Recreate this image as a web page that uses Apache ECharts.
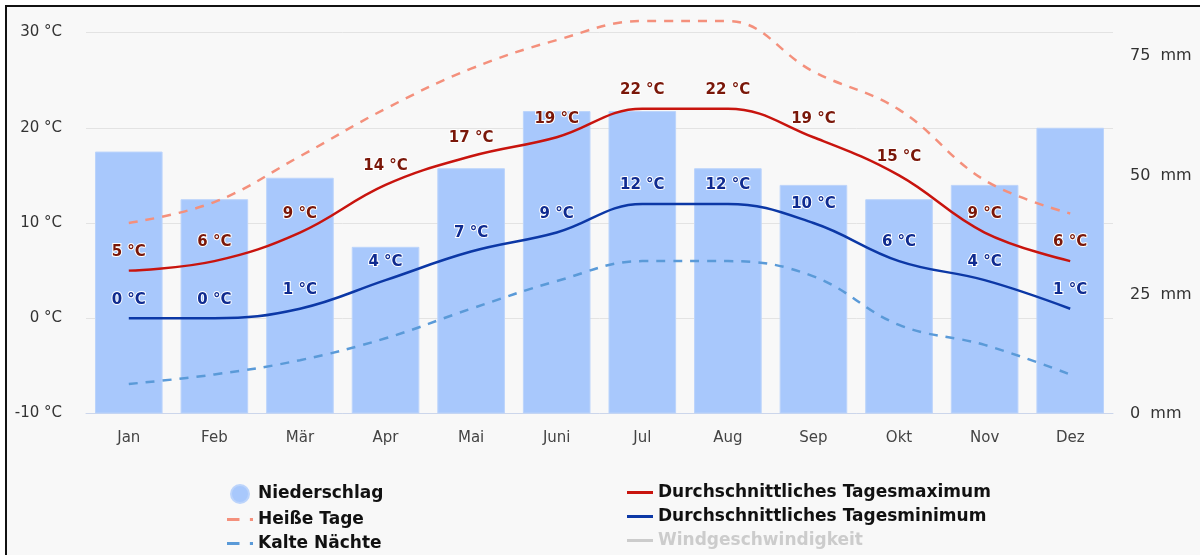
<!DOCTYPE html>
<html>
<head>
<meta charset="utf-8">
<script src="https://cdn.jsdelivr.net/npm/echarts@6/dist/echarts.min.js"></script>
<style>
html,body{margin:0;padding:0;background:#fff;overflow:hidden;}
#frame{position:absolute;left:5px;top:5px;width:1300px;height:700px;background:#f8f8f8;border-top:2px solid #111;border-left:2px solid #111;}
#chart{position:absolute;left:0;top:0;width:1200px;height:555px;}
</style>
</head>
<body>
<div id="frame"></div>
<div id="chart"></div>
<script>
const categories = ['Jan','Feb','Mär','Apr','Mai','Juni','Jul','Aug','Sep','Okt','Nov','Dez'];
const precipitation = [55, 45, 49.5, 35, 51.5, 63.5, 63.5, 51.5, 48, 45, 48, 60];
const tempMax = [5, 6, 9, 14, 17, 19, 22, 22, 19, 15, 9, 6];
const tempMin = [0, 0, 1, 4, 7, 9, 12, 12, 10, 6, 4, 1];
const hotDays = [10, 12.2, 17, 22, 26.2, 29.2, 31.2, 31.2, 25.9, 21.9, 14.5, 11];
const coldNights = [-6.9, -5.9, -4.4, -2.1, 1, 3.9, 6, 6, 4.4, -0.7, -2.8, -5.9];
const tempTicks = {min: -10, max: 30, interval: 10};
const mmTicks = {min: 0, max: 80, interval: 25};

const chart = echarts.init(document.getElementById('chart'), null, {renderer: 'canvas'});
const labelFont = {fontFamily: 'DejaVu Sans', fontWeight: 'bold', fontSize: 15};
const dashDot = 'path://M0,0h12v3h-12z M22,0h3v3h-3z';
const solid = 'path://M0,0h26v3h-26z';
const legendText = {fontFamily: 'DejaVu Sans', fontWeight: 'bold', fontSize: 17, color: '#111'};

chart.setOption({
  animation: false,
  grid: {left: 86, right: 87, top: 32.5, bottom: 141.5, containLabel: false},
  legend: [
    {
      orient: 'vertical', left: 227, top: 484, padding: 0, itemWidth: 26, itemHeight: 18, itemGap: 7,
      textStyle: legendText, inactiveColor: '#cccccc',
      data: [
        {name: 'Niederschlag', icon: 'circle'},
        {name: 'Heiße Tage', icon: dashDot},
        {name: 'Kalte Nächte', icon: dashDot}
      ]
    },
    {
      orient: 'vertical', left: 627, top: 484, padding: 0, itemWidth: 26, itemHeight: 18, itemGap: 7,
      textStyle: legendText, inactiveColor: '#cccccc',
      selected: {'Windgeschwindigkeit': false},
      data: [
        {name: 'Durchschnittliches Tagesmaximum', icon: solid},
        {name: 'Durchschnittliches Tagesminimum', icon: solid},
        {name: 'Windgeschwindigkeit', icon: solid}
      ]
    }
  ],
  xAxis: {
    type: 'category', data: categories,
    axisLine: {onZero: false, lineStyle: {color: '#ccd6eb', width: 1}},
    axisTick: {show: false},
    axisLabel: {fontFamily: 'DejaVu Sans', fontSize: 15, color: '#444', margin: 17}
  },
  yAxis: [
    {
      type: 'value', min: tempTicks.min, max: tempTicks.max, interval: tempTicks.interval,
      axisLabel: {fontFamily: 'DejaVu Sans', fontSize: 15, color: '#333', margin: 24, formatter: v => v + ' °C'},
      splitLine: {lineStyle: {color: '#e3e3e3', width: 1}},
      axisLine: {show: false}, axisTick: {show: false}
    },
    {
      type: 'value', min: mmTicks.min, max: mmTicks.max, interval: mmTicks.interval, position: 'right',
      axisLabel: {fontFamily: 'DejaVu Sans', fontSize: 16, color: '#333', margin: 17, showMaxLabel: false,
        formatter: v => (v % 25 === 0 ? v + '  mm' : '')},
      splitLine: {show: false}, axisLine: {show: false}, axisTick: {show: false}
    },
    {
      type: 'value', min: tempTicks.min, max: tempTicks.max, show: false
    }
  ],
  series: [
    {
      name: 'Niederschlag', type: 'bar', yAxisIndex: 1, data: precipitation,
      barCategoryGap: '21%', z: 1,
      itemStyle: {color: '#a8c8fc', borderColor: '#bcd4fb', borderWidth: 1}
    },
    {
      name: 'Heiße Tage', type: 'line', yAxisIndex: 2, data: hotDays, smooth: 0.4,
      clip: false, showSymbol: false, z: 3,
      lineStyle: {color: '#f4907c', width: 2.5, type: [9, 8]},
      itemStyle: {color: '#f4907c'}
    },
    {
      name: 'Kalte Nächte', type: 'line', yAxisIndex: 2, data: coldNights, smooth: 0.4,
      clip: false, showSymbol: false, z: 3,
      lineStyle: {color: '#5a9ad8', width: 2.5, type: [9, 8]},
      itemStyle: {color: '#5a9ad8'}
    },
    {
      name: 'Durchschnittliches Tagesmaximum', type: 'line', yAxisIndex: 0, data: tempMax, smooth: 0.4,
      symbol: 'circle', symbolSize: 0, showSymbol: true, z: 4,
      lineStyle: {color: '#c8140e', width: 2.5}, itemStyle: {color: '#c8140e'},
      label: {show: true, position: 'top', distance: 11, formatter: p => p.value + ' °C',
        color: '#7a1709', textBorderColor: '#fff', textBorderWidth: 2, ...labelFont}
    },
    {
      name: 'Durchschnittliches Tagesminimum', type: 'line', yAxisIndex: 0, data: tempMin, smooth: 0.4,
      symbol: 'circle', symbolSize: 0, showSymbol: true, z: 4,
      lineStyle: {color: '#0c38a6', width: 2.5}, itemStyle: {color: '#0c38a6'},
      label: {show: true, position: 'top', distance: 11, formatter: p => p.value + ' °C',
        color: '#0f2b90', textBorderColor: '#fff', textBorderWidth: 2, ...labelFont}
    },
    {
      name: 'Windgeschwindigkeit', type: 'line', yAxisIndex: 0, data: [], symbol: 'none',
      lineStyle: {color: '#999'}, itemStyle: {color: '#999'}
    }
  ]
});
</script>
</body>
</html>
